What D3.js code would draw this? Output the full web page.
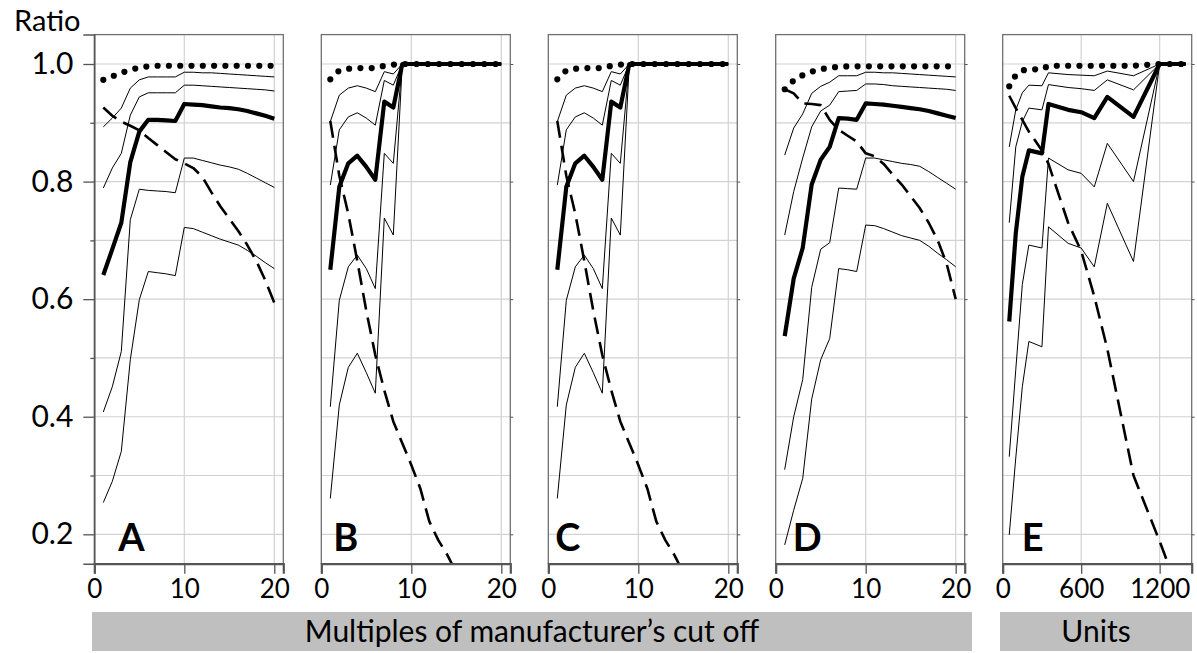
<!DOCTYPE html>
<html>
<head>
<meta charset="utf-8">
<script src="https://cdn.jsdelivr.net/npm/d3@7/dist/d3.min.js"></script>
<style>
  body { margin: 0; background: #fff; }
  text { font-family: Lato, "Open Sans", sans-serif; fill: #000; }
</style>
</head>
<body>
<div id="viz"></div>
<script>
// x positions of the data points
var xMultiples = d3.range(1, 21);
var xUnits = [50, 100, 150, 200, 300, 350, 500, 600, 700, 800, 1000, 1200, 1400];

// Panel A
var aDotted = [0.973,0.979,0.985,0.990,0.994,0.996,0.997,0.997,0.997,0.997,0.997,0.997,0.997,0.997,0.997,0.997,0.997,0.997,0.997,0.997];
var aUpper2 = [0.893,0.908,0.925,0.959,0.973,0.978,0.978,0.978,0.978,0.986,0.986,0.985,0.985,0.984,0.983,0.982,0.981,0.980,0.979,0.978];
var aUpper1 = [0.789,0.823,0.848,0.913,0.944,0.951,0.951,0.951,0.951,0.964,0.964,0.963,0.962,0.961,0.960,0.959,0.958,0.957,0.956,0.954];
var aMain   = [0.641,0.685,0.730,0.833,0.885,0.905,0.905,0.904,0.903,0.932,0.931,0.930,0.928,0.926,0.925,0.923,0.920,0.916,0.912,0.907];
var aLower1 = [0.408,0.451,0.511,0.735,0.787,0.785,0.784,0.783,0.781,0.840,0.840,0.836,0.832,0.828,0.825,0.821,0.814,0.806,0.798,0.790];
var aLower2 = [0.254,0.290,0.341,0.497,0.599,0.647,0.645,0.643,0.640,0.722,0.720,0.714,0.708,0.702,0.697,0.692,0.683,0.673,0.662,0.652];
var aDashed = [0.926,0.912,0.902,0.895,0.887,0.874,0.862,0.850,0.838,0.831,0.823,0.808,0.782,0.758,0.737,0.716,0.692,0.665,0.632,0.594];

// Panel B (panel C shows the same curves)
var bDotted = [0.974,0.989,0.992,0.993,0.993,0.993,0.997,0.999,1,1,1,1,1,1,1,1,1,1,1,1];
var bUpper2 = [0.902,0.947,0.959,0.963,0.959,0.953,0.987,0.983,1,1,1,1,1,1,1,1,1,1,1,1];
var bUpper1 = [0.794,0.888,0.910,0.917,0.908,0.896,0.972,0.964,1,1,1,1,1,1,1,1,1,1,1,1];
var bMain   = [0.650,0.791,0.831,0.844,0.825,0.803,0.936,0.926,1,1,1,1,1,1,1,1,1,1,1,1];
var bLower1 = [0.417,0.598,0.655,0.675,0.652,0.618,0.848,0.831,1,1,1,1,1,1,1,1,1,1,1,1];
var bLower2 = [0.261,0.420,0.484,0.508,0.475,0.440,0.738,0.709,1,1,1,1,1,1,1,1,1,1,1,1];
var bDashed = [0.903,0.810,0.745,0.665,0.580,0.505,0.445,0.392,0.355,0.318,0.278,0.222,0.190,0.165,0.135,null,null,null,null,null];

// Panel D
var dDotted = [0.957,0.972,0.981,0.987,0.991,0.994,0.995,0.996,0.996,0.996,0.996,0.996,0.996,0.996,0.996,0.996,0.996,0.996,0.996,0.996];
var dUpper2 = [0.845,0.891,0.915,0.950,0.962,0.969,0.980,0.980,0.980,0.986,0.986,0.985,0.985,0.984,0.983,0.982,0.981,0.980,0.979,0.978];
var dUpper1 = [0.709,0.783,0.840,0.893,0.920,0.930,0.953,0.954,0.955,0.966,0.966,0.965,0.963,0.962,0.961,0.960,0.959,0.958,0.957,0.955];
var dMain   = [0.537,0.635,0.687,0.795,0.837,0.859,0.908,0.907,0.905,0.933,0.932,0.931,0.929,0.927,0.925,0.923,0.920,0.916,0.912,0.908];
var dLower1 = [0.310,0.400,0.463,0.620,0.685,0.696,0.789,0.788,0.787,0.840,0.840,0.837,0.834,0.831,0.829,0.826,0.817,0.807,0.797,0.787];
var dLower2 = [0.182,0.241,0.295,0.430,0.497,0.533,0.652,0.650,0.647,0.726,0.725,0.720,0.714,0.708,0.704,0.700,0.690,0.678,0.667,0.655];
var dDashed = [0.957,0.950,0.933,0.932,0.930,0.905,0.888,0.878,0.868,0.848,0.843,0.830,0.812,0.795,0.775,0.755,0.730,0.700,0.660,0.600];

// Panel E
var eDotted = [0.962,0.981,0.989,0.991,0.991,0.997,0.997,0.997,0.997,0.997,0.997,1,1];
var eUpper2 = [0.859,0.922,0.951,0.964,0.963,0.985,0.982,0.981,0.980,0.988,0.980,1,1];
var eUpper1 = [0.730,0.859,0.902,0.925,0.922,0.965,0.960,0.958,0.955,0.973,0.956,1,1];
var eMain   = [0.562,0.712,0.808,0.853,0.848,0.932,0.922,0.918,0.908,0.944,0.910,1,1];
var eLower1 = [0.332,0.480,0.625,0.692,0.687,0.840,0.820,0.814,0.791,0.865,0.800,1,1];
var eLower2 = [0.199,0.330,0.451,0.528,0.519,0.723,0.695,0.687,0.655,0.763,0.664,1,1];
var eDashed = [0.946,0.925,0.905,0.885,0.853,0.830,0.730,0.682,0.605,0.515,0.300,0.188,0.070];

var panelLetters = ["A", "B", "C", "D", "E"];
var multipleTicks = [0, 10, 20];
var unitTicks = [0, 600, 1200];
var yMajorTicks = [0.2, 0.4, 0.6, 0.8, 1.0];
var yMinorTicks = [0.3, 0.5, 0.7, 0.9];
var axisTitles = ["Multiples of manufacturer\u2019s cut off", "Units"];

var width = 1197, height = 653;
var panelW = 189;
var panelLeft = [94.3, 321.3, 548.3, 775.7, 1002.7];
var letterOffset = [24, 12, 7, 17, 19];

var panels = [
  { x: xMultiples, max: 21, ticks: multipleTicks, lines: [aDotted, aUpper2, aUpper1, aMain, aLower1, aLower2, aDashed] },
  { x: xMultiples, max: 21, ticks: multipleTicks, lines: [bDotted, bUpper2, bUpper1, bMain, bLower1, bLower2, bDashed] },
  { x: xMultiples, max: 21, ticks: multipleTicks, lines: [bDotted, bUpper2, bUpper1, bMain, bLower1, bLower2, bDashed] },
  { x: xMultiples, max: 21, ticks: multipleTicks, lines: [dDotted, dUpper2, dUpper1, dMain, dLower1, dLower2, dDashed] },
  { x: xUnits, max: 1445, ticks: unitTicks, lines: [eDotted, eUpper2, eUpper1, eMain, eLower1, eLower2, eDashed] }
];

// line styles in the same order as the lines arrays
var styles = [
  { w: 6.2, dash: "0,11.3", cap: "round" },  // dotted
  { w: 1, dash: null, cap: "butt" },
  { w: 1, dash: null, cap: "butt" },
  { w: 4.2, dash: null, cap: "butt" },       // thick
  { w: 1, dash: null, cap: "butt" },
  { w: 1, dash: null, cap: "butt" },
  { w: 2.6, dash: "17,8", cap: "butt" }      // dashed
];
var drawOrder = [1, 2, 4, 5, 3, 6, 0];

var svg = d3.select("#viz").append("svg")
    .attr("width", width)
    .attr("height", height);

var y = d3.scaleLinear().domain([0.15, 1.05]).range([563.7, 34.6]);
var plotTop = 34.6, plotBottom = 563.7;

svg.append("defs").append("clipPath")
    .attr("id", "plotclip")
  .append("rect")
    .attr("x", 0).attr("y", plotTop)
    .attr("width", panelW).attr("height", plotBottom - plotTop);

panels.forEach(function(p, i) {
  var x = d3.scaleLinear().domain([0, p.max]).range([0, panelW]);
  var g = svg.append("g")
      .attr("transform", "translate(" + panelLeft[i] + ",0)");

  // grid
  g.append("g").selectAll("line")
    .data(yMajorTicks.concat(yMinorTicks)).enter()
    .append("line")
      .attr("x1", 0).attr("x2", panelW)
      .attr("y1", function(d) { return y(d); })
      .attr("y2", function(d) { return y(d); })
      .attr("stroke", "#d2d2d2").attr("stroke-width", 1.2);
  g.append("g").selectAll("line")
    .data(p.ticks.slice(1)).enter()
    .append("line")
      .attr("x1", function(d) { return x(d); })
      .attr("x2", function(d) { return x(d); })
      .attr("y1", plotTop).attr("y2", plotBottom)
      .attr("stroke", "#d2d2d2").attr("stroke-width", 1.2);

  // curves
  var line = d3.line()
      .defined(function(d) { return d[1] != null; })
      .x(function(d) { return x(d[0]); })
      .y(function(d) { return y(d[1]); });
  var lg = g.append("g").attr("clip-path", "url(#plotclip)");
  drawOrder.forEach(function(k) {
    var pts = p.x.map(function(v, j) { return [v, p.lines[k][j]]; });
    lg.append("path")
      .datum(pts)
      .attr("d", line)
      .attr("fill", "none")
      .attr("stroke", "#000")
      .attr("stroke-width", styles[k].w)
      .attr("stroke-linecap", styles[k].cap)
      .attr("stroke-linejoin", "round")
      .attr("stroke-dasharray", styles[k].dash);
  });

  // frame
  g.append("rect")
      .attr("x", 0).attr("y", plotTop)
      .attr("width", panelW).attr("height", plotBottom - plotTop)
      .attr("fill", "none").attr("stroke", "#707070").attr("stroke-width", 1.3);

  // x axis
  var xAxis = g.append("g")
      .attr("transform", "translate(0," + plotBottom + ")")
      .call(d3.axisBottom(x).tickValues(p.ticks).tickSize(10).tickPadding(6).tickFormat(d3.format("d")));
  xAxis.select(".domain").attr("stroke", "#555").attr("stroke-width", 2.2);
  xAxis.selectAll(".tick line").attr("stroke", "#555").attr("stroke-width", 1.3);
  xAxis.selectAll("text").style("font-size", "26px").attr("fill", "#000");

  if (i === 0) {
    var yAxis = g.append("g")
        .call(d3.axisLeft(y).tickValues(yMajorTicks).tickSize(11).tickPadding(10).tickFormat(d3.format(".1f")));
    yAxis.select(".domain").attr("stroke", "#555").attr("stroke-width", 1.5);
    yAxis.selectAll(".tick line").attr("stroke", "#555").attr("stroke-width", 1.3);
    yAxis.selectAll("text").style("font-size", "30px").attr("fill", "#000");
    var yMinor = g.append("g")
        .call(d3.axisLeft(y).tickValues(yMinorTicks).tickSize(4).tickFormat(""));
    yMinor.select(".domain").remove();
    yMinor.selectAll(".tick line").attr("stroke", "#555").attr("stroke-width", 1.3);
  } else {
    var yRight = g.append("g")
        .attr("transform", "translate(" + panelW + ",0)")
        .call(d3.axisRight(y).tickValues(yMajorTicks).tickSize(3).tickFormat(""));
    yRight.select(".domain").remove();
    yRight.selectAll(".tick line").attr("stroke", "#555");
  }

  g.append("text")
      .attr("x", letterOffset[i])
      .attr("y", 551)
      .style("font-size", "38px")
      .style("font-weight", "bold")
      .text(panelLetters[i]);
});

svg.append("text")
    .attr("x", 14).attr("y", 31)
    .style("font-size", "29px")
    .text("Ratio");

// axis title boxes
var boxes = [[92, 972], [1000, 1192]];
boxes.forEach(function(b, i) {
  svg.append("rect")
      .attr("x", b[0]).attr("y", 612)
      .attr("width", b[1] - b[0]).attr("height", 39)
      .attr("fill", "#bfbfbf");
  svg.append("text")
      .attr("x", (b[0] + b[1]) / 2).attr("y", 642)
      .attr("text-anchor", "middle")
      .style("font-size", "30px")
      .text(axisTitles[i]);
});
</script>
</body>
</html>
